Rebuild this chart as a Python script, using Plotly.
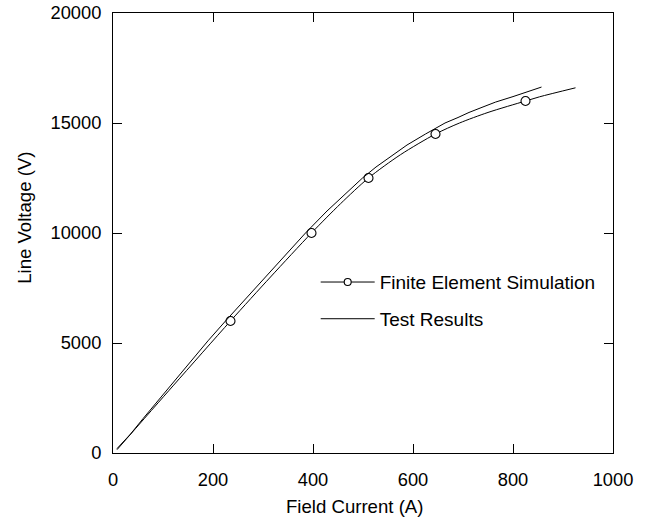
import plotly.graph_objects as go

# Finite element simulation: smooth curve and the computed operating points
fe_curve_current = [8, 120, 235, 315, 397, 455, 511, 575, 645, 693, 750, 825, 853, 925]
fe_curve_voltage = [150, 3050, 6000, 8000, 10000, 11330, 12500, 13560, 14500, 15000, 15480, 16000, 16190, 16600]
fe_point_current = [235, 397, 511, 645, 825]
fe_point_voltage = [6000, 10000, 12500, 14500, 16000]

# Measured open-circuit characteristic
test_current = [8, 35, 60, 85, 110, 135, 160, 190, 225, 265, 305, 345, 385, 428, 475,
                 499, 526, 556, 588, 625, 664, 690, 712, 740, 765, 800, 825, 857]
test_voltage = [200, 860, 1560, 2240, 2940, 3600, 4280, 5100, 6000, 7000, 8000, 9000, 10000,
                11000, 12000, 12500, 13000, 13480, 14000, 14500, 15000, 15250, 15480, 15730,
                15950, 16200, 16390, 16634]

x_ticks = [0, 200, 400, 600, 800, 1000]
y_ticks = [0, 5000, 10000, 15000, 20000]

FONT = "Liberation Sans, Arial, sans-serif"
TICK_FS = 18.3
TITLE_FS = 18.6
LEGEND_FS = 19

# plot-area geometry in pixels, used to place titles and legend
LEFT, RIGHT, TOP, BOTTOM = 113.3, 613.3, 13.0, 452.7
W, H = RIGHT - LEFT, BOTTOM - TOP


def px_x(p):
    return (p - LEFT) / W


def px_y(p):
    return (BOTTOM - p) / H


fig = go.Figure()

fig.add_trace(go.Scatter(
    x=fe_curve_current, y=fe_curve_voltage, mode="lines",
    line=dict(color="black", width=1, shape="spline", smoothing=0.8),
    showlegend=False, hoverinfo="skip", legendgroup="fe"))
fig.add_trace(go.Scatter(
    x=fe_point_current, y=fe_point_voltage, mode="markers",
    marker=dict(symbol="circle", size=9, color="white", line=dict(color="black", width=1.1)),
    showlegend=False, legendgroup="fe"))
# legend entry for the simulation (line with a circle marker)
fig.add_trace(go.Scatter(
    x=[None], y=[None], mode="lines+markers", name="Finite Element Simulation",
    line=dict(color="black", width=1),
    marker=dict(symbol="circle", size=7, color="white", line=dict(color="black", width=1.1)),
    legendgroup="fe"))
fig.add_trace(go.Scatter(
    x=test_current, y=test_voltage, mode="lines", name="Test Results",
    line=dict(color="black", width=1), legendgroup="test"))

axis_common = dict(
    showline=True, linecolor="black", linewidth=1, mirror="ticks",
    ticks="inside", ticklen=9, tickwidth=1, tickcolor="black",
    showgrid=False, zeroline=False,
    tickfont=dict(family=FONT, size=TICK_FS, color="black"),
)

fig.update_xaxes(range=[0, 1000], tickvals=x_ticks, ticktext=[str(v) for v in x_ticks],
                 ticklabelstandoff=10, **axis_common)
fig.update_yaxes(range=[0, 20000], tickvals=y_ticks, ticktext=[str(v) for v in y_ticks],
                 ticklabelstandoff=7, **axis_common)

title_font = dict(family=FONT, size=TITLE_FS, color="black")
fig.add_annotation(text="Field Current (A)", xref="paper", yref="paper",
                   x=px_x(355), y=px_y(506), xanchor="center", yanchor="middle",
                   showarrow=False, font=title_font)
fig.add_annotation(text="Line Voltage (V)", xref="paper", yref="paper",
                   x=px_x(24.5), y=px_y(217.5), xanchor="center", yanchor="middle",
                   textangle=-90, showarrow=False, font=title_font)

fig.update_layout(
    width=654, height=519,
    margin=dict(l=LEFT, r=654 - RIGHT, t=TOP, b=519 - BOTTOM, autoexpand=False),
    paper_bgcolor="white", plot_bgcolor="white",
    font=dict(family=FONT, size=TICK_FS, color="black"),
    legend=dict(
        x=px_x(316), y=px_y(263), xanchor="left", yanchor="top",
        bgcolor="rgba(0,0,0,0)", borderwidth=0,
        font=dict(family=FONT, size=LEGEND_FS, color="black"),
        traceorder="grouped", tracegroupgap=9, itemwidth=54,
    ),
)

fig.write_html("out.html")
